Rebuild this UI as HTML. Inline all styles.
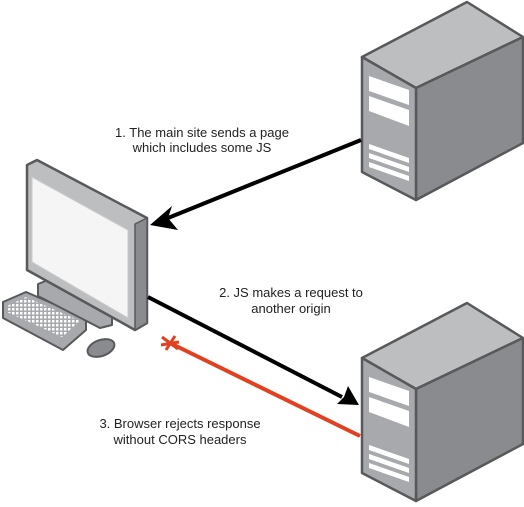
<!DOCTYPE html>
<html><head><style>html,body{margin:0;padding:0;background:#fff;}svg{display:block}</style></head>
<body>
<svg width="524" height="507" viewBox="0 0 524 507" xmlns="http://www.w3.org/2000/svg" font-family="'Liberation Sans', sans-serif" font-size="13" fill="#222">
<defs>
<g id="srv">
  <polygon points="362,57 467,2 523,37 416,88" fill="#bdbec0" stroke="#58595b" stroke-width="2.5" stroke-linejoin="round"/>
  <polygon points="416,88 523,37 523,143 416,200" fill="#8a8b8e" stroke="#58595b" stroke-width="2.5" stroke-linejoin="round"/>
  <polygon points="362,57 416,88 416,200 362,172" fill="#a7a9ac" stroke="#58595b" stroke-width="2.5" stroke-linejoin="round"/>
  <polygon points="369,76 409,90 409,105 369,91" fill="#fff"/>
  <polygon points="369,96 409,110 409,126 369,111" fill="#fff"/>
  <polygon points="369,144 409,158 409,163 369,149" fill="#fff"/>
  <polygon points="369,153 409,167 409,172 369,158" fill="#fff"/>
  <polygon points="369,162 409,176 409,181 369,167" fill="#fff"/>
</g>
<pattern id="keys" width="4" height="4" patternUnits="userSpaceOnUse">
  <rect width="4" height="4" fill="#a7a9ac"/><rect width="2.5" height="2.5" fill="#fff"/>
</pattern>
</defs>
<use href="#srv"/>
<use href="#srv" y="301"/>
<!-- keyboard -->
<polygon points="3,302 26,292 86,318 86,330 63,350 3,318" fill="#a7a9ac" stroke="#58595b" stroke-width="2" stroke-linejoin="round"/>
<polygon points="7,306 26,297 80,321 62,337 7,312" fill="url(#keys)"/>
<!-- mouse -->
<ellipse cx="101" cy="348" rx="14" ry="8" fill="#8a8b8e" stroke="#58595b" stroke-width="2" transform="rotate(-20 101 348)"/>
<!-- stand -->
<polygon points="38,284 48,280 112,313 112,325 100,328 38,296" fill="#a7a9ac" stroke="#58595b" stroke-width="2" stroke-linejoin="round"/>
<!-- monitor -->
<polygon points="27,165 37,160 147,218 147,323 135,330 27,270" fill="#bdbec0" stroke="#58595b" stroke-width="2.5" stroke-linejoin="round"/>
<polygon points="135,224 147,218 147,323 135,330" fill="#8a8b8e" stroke="#58595b" stroke-width="1.5"/>
<polygon points="32,177 128,230 128,318 32,262" fill="#f5f5f6" stroke="#c8c9cb" stroke-width="1"/>
<!-- arrows -->
<line x1="361" y1="140" x2="168" y2="218" stroke="#000" stroke-width="4"/>
<polygon points="150,225 172,206 168,218 178,230" fill="#000"/>
<line x1="148" y1="297" x2="342" y2="397" stroke="#000" stroke-width="4"/>
<polygon points="359,405 337,404 344,397 348,386" fill="#000"/>
<line x1="360" y1="436" x2="170" y2="343" stroke="#e2401f" stroke-width="4"/>
<g stroke="#e2401f" stroke-width="3"><line x1="162" y1="337" x2="178" y2="349"/><line x1="166" y1="350" x2="175" y2="336"/><line x1="161" y1="345" x2="179" y2="342"/></g>
<!-- labels -->
<text x="202" y="137" text-anchor="middle">1. The main site sends a page</text>
<text x="202" y="152" text-anchor="middle">which includes some JS</text>
<text x="291" y="297" text-anchor="middle">2. JS makes a request to</text>
<text x="291" y="313" text-anchor="middle">another origin</text>
<text x="180" y="428" text-anchor="middle">3. Browser rejects response</text>
<text x="180" y="444" text-anchor="middle">without CORS headers</text>
</svg>
</body></html>
